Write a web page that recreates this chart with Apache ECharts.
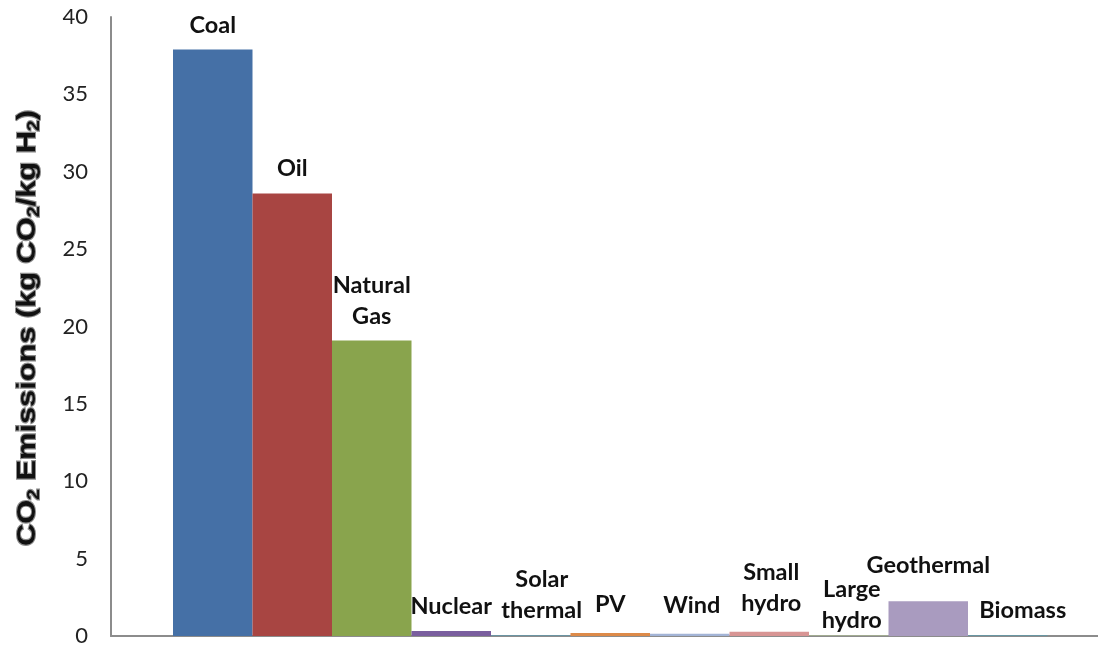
<!DOCTYPE html>
<html>
<head>
<meta charset="utf-8">
<title>CO2 emissions per kg of hydrogen by energy source</title>
<script src="https://cdn.jsdelivr.net/npm/echarts@6/dist/echarts.min.js"></script>
<style>
  html, body { margin: 0; padding: 0; background: #fff; }
  #chart { width: 1098px; height: 650px; }
</style>
</head>
<body>
<div id="chart"></div>
<script>
// Energy sources, in drawing order
const sources = ['Coal', 'Oil', 'Natural Gas', 'Nuclear', 'Solar thermal', 'PV', 'Wind',
                 'Small hydro', 'Large hydro', 'Geothermal', 'Biomass'];
// Text written above each bar
const barLabels = ['Coal', 'Oil', 'Natural\nGas', 'Nuclear', 'Solar\nthermal', 'PV', 'Wind',
                   'Small\nhydro', 'Large\nhydro', 'Geothermal', 'Biomass'];
// kg CO2 emitted per kg H2 produced
const emissions = [37.9, 28.6, 19.1, 0.33, 0.04, 0.2, 0.14, 0.28, 0.03, 2.25, 0.04];
// Value axis ticks
const yTicks = { min: 0, max: 40, step: 5 };

// Fill colour for each source
const colors = ['#4570a6', '#a84542', '#89a44d', '#7a5e9e', '#4a9cb8', '#dd8a48', '#a3b4d6',
                '#d89594', '#b6c996', '#a99bbf', '#45a0b8'];
// Hand-placed nudges for a few crowded labels
const labelNudge = {
  'Solar thermal': [11, 0],
  'Large hydro': [3, 9],
  'Geothermal': [0, -11],
  'Biomass': [15, 0],
  'Small hydro': [2, -4],
  'PV': [0, -4],
  'Wind': [2, -4]
};

const axisGray = '#8c8c8c';
const labelFont = 'Lato, "Open Sans", sans-serif';
const titleFont = '"Liberation Sans", Arial, sans-serif';

const barData = sources.map((name, i) => ({
  name: name,
  value: emissions[i],
  itemStyle: { color: colors[i] },
  label: {
    formatter: barLabels[i],
    offset: labelNudge[name] || [0, 0]
  }
}));

const titleRich = {
  a: { fontFamily: titleFont, fontWeight: 'bold', fontSize: 25, lineHeight: 30, fill: '#111', color: '#111' },
  s: { fontFamily: titleFont, fontWeight: 'bold', fontSize: 16, lineHeight: 30, verticalAlign: 'bottom', fill: '#111', color: '#111' }
};

const chart = echarts.init(document.getElementById('chart'), null, { renderer: 'canvas' });
chart.setOption({
  animation: false,
  backgroundColor: '#fff',
  grid: [
    // grid 0: the bars, packed edge to edge
    { left: 173, right: 50.5, top: 17, bottom: 14, containLabel: false },
    // grid 1: the visible frame and value scale
    { left: 111, right: 0, top: 17, bottom: 14, containLabel: false }
  ],
  xAxis: [
    { gridIndex: 0, type: 'category', data: sources, show: false },
    {
      gridIndex: 1,
      type: 'category',
      data: [''],
      axisLine: { show: true, onZero: false, lineStyle: { color: axisGray, width: 2 } },
      axisTick: { show: false },
      axisLabel: { show: false }
    }
  ],
  yAxis: [
    { gridIndex: 0, type: 'value', min: yTicks.min, max: yTicks.max, interval: yTicks.step, show: false },
    {
      gridIndex: 1,
      type: 'value',
      min: yTicks.min,
      max: yTicks.max,
      interval: yTicks.step,
      axisLine: { show: true, onZero: false, lineStyle: { color: axisGray, width: 2 } },
      axisTick: { show: false },
      splitLine: { show: false },
      axisLabel: { margin: 23, fontFamily: labelFont, fontSize: 22, color: '#222' }
    }
  ],
  // Axis title, drawn as its own text so it can run along the full axis height
  graphic: [{
    type: 'text',
    x: 28,
    y: 328,
    rotation: Math.PI / 2,
    scaleX: 1.23,
    style: {
      text: '{a|CO}{s|2}{a| Emissions (kg CO}{s|2}{a|/kg H}{s|2}{a|)}',
      rich: titleRich,
      align: 'center',
      verticalAlign: 'middle',
      fill: '#111'
    }
  }],
  series: [{
    type: 'bar',
    xAxisIndex: 0,
    yAxisIndex: 0,
    barCategoryGap: '0%',
    data: barData,
    label: {
      show: true,
      position: 'top',
      distance: 9,
      fontFamily: labelFont,
      fontWeight: 'bold',
      fontSize: 23.5,
      lineHeight: 31,
      color: '#111'
    }
  }]
});

// Left frame line, placed through the value scale of grid 1 so it spans 0..40
const yBottom = chart.convertToPixel({ yAxisIndex: 1 }, yTicks.min);
const yTop = chart.convertToPixel({ yAxisIndex: 1 }, yTicks.max);
const frameX = chart.getModel().getComponent('grid', 1).coordinateSystem.getRect().x;
chart.setOption({
  graphic: [{
    type: 'line',
    shape: { x1: frameX, y1: yBottom, x2: frameX, y2: yTop },
    style: { stroke: axisGray, lineWidth: 2 },
    silent: true,
    z: 10
  }]
});
</script>
</body>
</html>
